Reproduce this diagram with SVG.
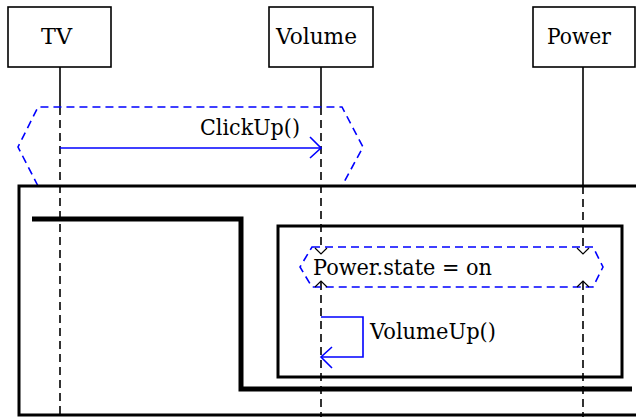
<svg xmlns="http://www.w3.org/2000/svg" width="636" height="417" viewBox="0 0 636 417">
  <style>
    .head { fill: #ffffff; stroke: #000000; stroke-width: 1.6; }
    .label { font-family: "DejaVu Serif", "Liberation Serif", serif; font-size: 21.5px; fill: #000000; }
    .life { stroke: #000000; stroke-width: 1.6; fill: none; }
    .life-dash { stroke: #000000; stroke-width: 1.6; fill: none; stroke-dasharray: 8 5; }
    .guard { stroke: #0000ff; stroke-width: 1.6; fill: none; stroke-dasharray: 8 5; }
    .msg { stroke: #0000ff; stroke-width: 1.6; fill: none; }
    .notch { stroke: #000000; stroke-width: 1.2; fill: none; }
    .frame { stroke: #000000; stroke-width: 3; fill: none; }
    .flow { stroke: #000000; stroke-width: 5; fill: none; }
  </style>

  <!-- lifelines -->
  <g id="lifelines">
    <line class="life" x1="60" y1="67" x2="60" y2="107"/>
    <line class="life-dash" x1="60" y1="107" x2="60" y2="417"/>
    <line class="life" x1="321" y1="67" x2="321" y2="107"/>
    <line class="life-dash" x1="321" y1="107" x2="321" y2="250"/>
    <line class="life-dash" x1="321" y1="282" x2="321" y2="417"/>
    <line class="life" x1="583" y1="67" x2="583" y2="186"/>
    <line class="life-dash" x1="583" y1="186" x2="583" y2="250"/>
    <line class="life-dash" x1="583" y1="282" x2="583" y2="417"/>
  </g>

  <!-- participant heads -->
  <g id="tv">
    <rect class="head" x="8" y="7" width="103" height="60"/>
    <text class="label" x="41" y="44" textLength="31" lengthAdjust="spacingAndGlyphs">TV</text>
  </g>
  <g id="volume">
    <rect class="head" x="269" y="7" width="104" height="60"/>
    <text class="label" x="276" y="44" textLength="81" lengthAdjust="spacingAndGlyphs">Volume</text>
  </g>
  <g id="power">
    <rect class="head" x="533" y="7" width="102" height="60"/>
    <text class="label" x="547" y="44" textLength="64" lengthAdjust="spacingAndGlyphs">Power</text>
  </g>

  <!-- first interaction region (dashed hexagon) -->
  <g id="click-region">
    <polyline class="guard" points="38,186 18,147 38,107 342,107 363,147 342,186"/>
  </g>

  <!-- outer fragment and flow line -->
  <g id="outer-frame">
    <path class="frame" d="M640,186 H19 V415 H640"/>
    <polyline class="flow" points="32,219 241,219 241,389 632,389"/>
  </g>

  <!-- inner fragment -->
  <g id="inner-frame">
    <rect class="frame" x="278" y="226" width="344" height="151"/>
  </g>

  <!-- state invariant -->
  <g id="state-guard">
    <polygon class="guard" points="312,247 593,247 603,267 593,287 312,287 300,267"/>
    <polyline class="notch" points="315,248 321,254 327,248"/>
    <polyline class="notch" points="315,287 321,281 327,287"/>
    <polyline class="notch" points="577,248 583,254 589,248"/>
    <polyline class="notch" points="577,287 583,281 589,287"/>
    <text class="label" x="313" y="275" textLength="179" lengthAdjust="spacingAndGlyphs">Power.state = on</text>
  </g>

  <!-- messages -->
  <g id="connectors">
    <line class="msg" x1="60" y1="148" x2="321" y2="148"/>
    <polyline class="msg" points="310,137 321,148 310,158"/>
    <text class="label" x="200" y="135" textLength="100" lengthAdjust="spacingAndGlyphs">ClickUp()</text>

    <polyline class="msg" points="321,317 363,317 363,357 321,357"/>
    <polyline class="msg" points="332,347 321,357 332,368"/>
    <text class="label" x="370" y="339" textLength="126" lengthAdjust="spacingAndGlyphs">VolumeUp()</text>
  </g>
</svg>
